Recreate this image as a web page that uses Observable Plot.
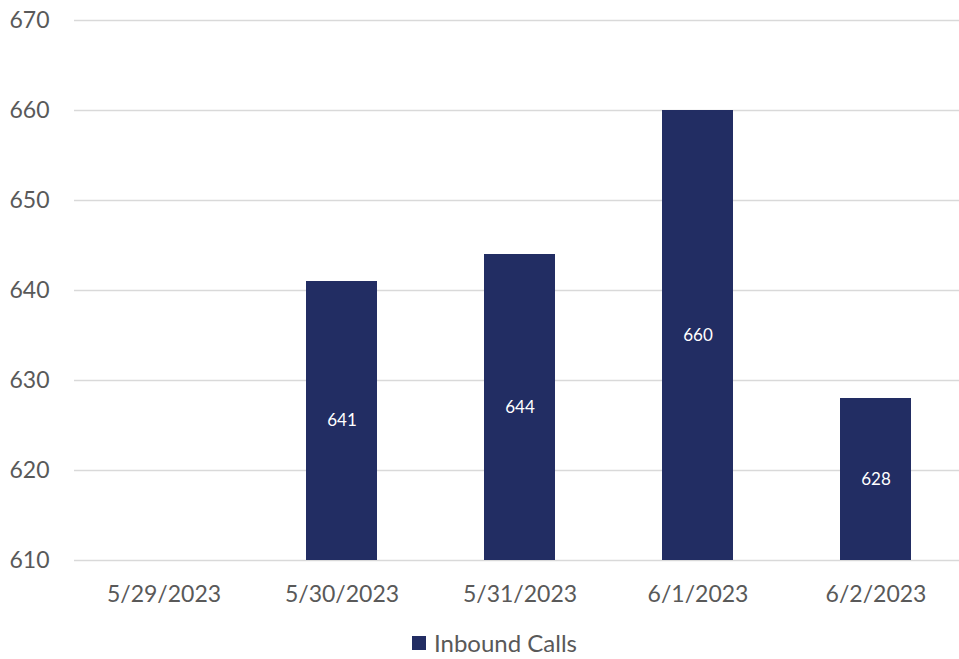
<!DOCTYPE html>
<html>
<head>
<meta charset="utf-8">
<script src="https://cdn.jsdelivr.net/npm/d3@7"></script>
<script src="https://cdn.jsdelivr.net/npm/@observablehq/plot@0.6"></script>
<style>
  html, body { margin: 0; padding: 0; background: #fff; overflow: hidden; }
  #chart { width: 966px; height: 620px; }
  #chart svg { max-width: none !important; }
  .legend { display: flex; align-items: center; justify-content: center; width: 959px; height: 39px; padding-top: 6px; padding-left: 30px; box-sizing: border-box;
    font-family: Lato, "Open Sans", sans-serif; font-size: 24px; color: #595959; }
  .legend .sw { width: 14px; height: 14px; background: #222d63; margin-right: 8px; }
</style>
</head>
<body>
<div id="chart"></div>
<script>
const categories = ["5/29/2023", "5/30/2023", "5/31/2023", "6/1/2023", "6/2/2023"];
const inboundCalls = [null, 641, 644, 660, 628];
const yTicks = [610, 620, 630, 640, 650, 660, 670];
const seriesName = "Inbound Calls";
const barColor = "#222d63";

const data = categories.map((c, i) => ({date: c, value: inboundCalls[i]}));
const base = 610;

const chart = Plot.plot({
  width: 966,
  height: 620,
  marginTop: 20,
  marginLeft: 74,
  marginRight: 0,
  marginBottom: 60,
  style: {fontFamily: "Lato, 'Open Sans', sans-serif", fontSize: "23px", color: "#595959", background: "#fff", maxWidth: "none"},
  x: {domain: categories, paddingInner: 0.6, paddingOuter: 0.3, label: null},
  y: {domain: [610, 670], label: null},
  marks: [
    Plot.ruleY(yTicks, {stroke: "#d9d9d9", strokeWidth: 1.4}),
    Plot.barY(data.filter(d => d.value != null), {x: "date", y1: base, y2: "value", fill: barColor, inset: 0}),
    Plot.text(data.filter(d => d.value != null), {x: "date", y: d => (d.value + base) / 2, text: d => String(d.value), fill: "#fff", fontSize: 17}),
    Plot.axisX({tickSize: 0, tickPadding: 25, fill: "#595959", fontSize: 23}),
    Plot.axisY({ticks: yTicks, tickSize: 0, tickPadding: 25, fill: "#595959", fontSize: 23, tickFormat: d => String(d)})
  ]
});
document.getElementById("chart").appendChild(chart);

const legend = document.createElement("div");
legend.className = "legend";
legend.innerHTML = `<span class="sw"></span><span>${seriesName}</span>`;
document.body.appendChild(legend);
</script>
</body>
</html>
